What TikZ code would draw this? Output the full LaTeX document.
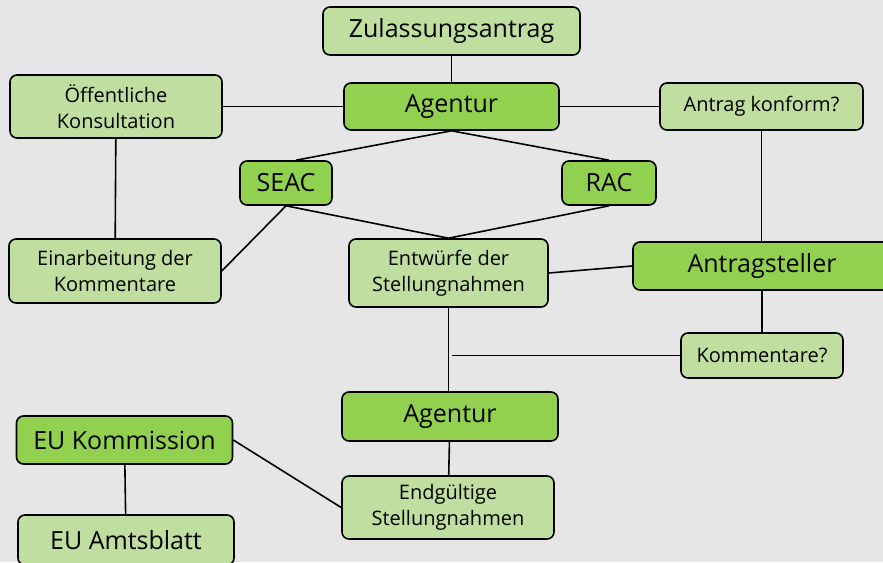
\documentclass[tikz,border=0pt]{standalone}
\usepackage{fontspec}
\setmainfont{Open Sans}
\usetikzlibrary{positioning}
\definecolor{lightleaf}{HTML}{C0DEA0}
\definecolor{darkleaf}{HTML}{92D050}
\definecolor{paper}{HTML}{E6E6E6}
\tikzset{
  stepbox/.style={
    draw,
    line width=1.6pt,
    rounded corners=7pt,
    align=center,
    inner sep=0pt,
    fill=lightleaf,
    font=\fontsize{20}{25.5}\selectfont
  },
  keybox/.style={
    stepbox,
    fill=darkleaf,
    font=\fontsize{25}{30}\selectfont
  },
  linkline/.style={line width=1.6pt}
}

\begin{document}
\begin{tikzpicture}[x=1pt,y=-1pt]
\fill[paper] (0,0) rectangle (883,562);
\useasboundingbox (0,0) rectangle (883,562);

\node[stepbox, font=\fontsize{25}{30}\selectfont, minimum width=257pt, minimum height=48pt] (antrag) at (451.5,31) {Zulassungsantrag};
\node[keybox, minimum width=215pt, minimum height=47pt] (agentur) at (451.5,106.5) {Agentur};
\node[stepbox, minimum width=212pt, minimum height=63pt] (konsult) at (116,106.5) {Öffentliche\\Konsultation};
\node[stepbox, minimum width=203pt, minimum height=47pt] (konform) at (761.5,106.5) {Antrag konform?};
\node[keybox, minimum width=92pt, minimum height=44pt] (seac) at (286,183) {SEAC};
\node[keybox, minimum width=94pt, minimum height=44pt] (rac) at (609,183) {RAC};
\node[stepbox, minimum width=212pt, minimum height=64pt] (einarb) at (115,271) {Einarbeitung der\\Kommentare};
\node[stepbox, minimum width=199pt, minimum height=68pt] (entwurf) at (448.5,273) {Entwürfe der\\Stellungnahmen};
\node[keybox, minimum width=258pt, minimum height=48pt] (steller) at (762,266) {Antragsteller};
\node[stepbox, minimum width=162pt, minimum height=45pt] (komm) at (762,355.5) {Kommentare?};
\node[keybox, minimum width=216pt, minimum height=49pt] (agenturend) at (450,416.5) {Agentur};
\node[keybox, minimum width=216pt, minimum height=48pt] (kommission) at (124.5,440) {EU Kommission};
\node[stepbox, minimum width=212pt, minimum height=63pt] (endg) at (448,507.5) {Endgültige\\Stellungnahmen};
\node[stepbox, font=\fontsize{25}{30}\selectfont, minimum width=216pt, minimum height=50pt] (amtsblatt) at (126,540) {EU Amtsblatt};
\coordinate (kommend) at (452,355.5);

\draw[linkline] (antrag) -- (agentur);
\draw[linkline] (konsult) -- (agentur);
\draw[linkline] (agentur) -- (konform);
\draw[linkline] (agentur.south) -- ([xshift=10pt]seac.north);
\draw[linkline] (agentur.south) -- (rac.north);
\draw[linkline] (konsult) -- (einarb);
\draw[linkline] (seac.south) -- (einarb.east);
\draw[linkline] (seac.south) -- (entwurf.north);
\draw[linkline] (rac.south) -- (entwurf.north);
\draw[linkline] (konform.south) -- (konform.south |- steller.north);
\draw[linkline] (entwurf.east) -- (steller.west);
\draw[linkline] (steller) -- (komm);
\draw[linkline] (komm.west) -- (kommend);
\draw[linkline] (entwurf.south) -- (entwurf.south |- agenturend.north);
\draw[linkline] (agenturend) -- (endg);
\draw[linkline] (kommission.east) -- (endg.west);
\draw[linkline] (kommission) -- (amtsblatt);
\end{tikzpicture}
\end{document}
